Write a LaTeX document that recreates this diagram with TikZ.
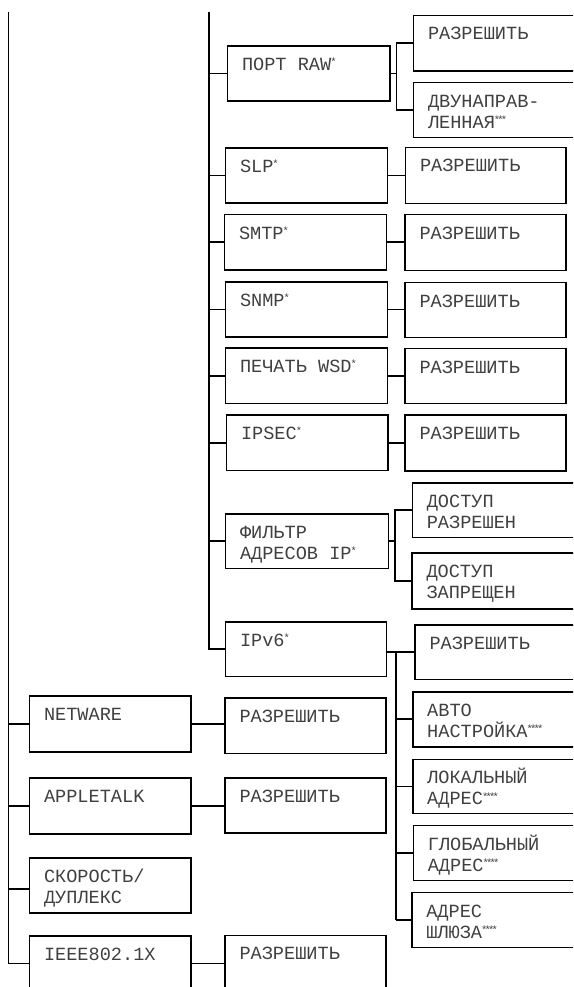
\documentclass[tikz,border=0pt]{standalone}
\usepackage{fontspec}
\newfontfamily\mono{Liberation Mono}
\newcommand\st[1]{\raisebox{4.6pt}{\fontsize{10.5}{10.5}\selectfont #1}}
\newcommand\starA{\kern-1pt*}
\newcommand\starC{\kern-1pt*\kern-2.8pt*\kern-2.8pt*}
\newcommand\starD{\kern-1pt*\kern-2.8pt*\kern-2.8pt*\kern-2.8pt*}
\newcommand\tx[3]{\parbox[c][#2][t]{#1}{\mono\fontsize{18.6}{21}\selectfont\raggedright\leftskip=14.5pt\rule{0pt}{24.5pt}#3}}
\tikzset{
  bx/.style={draw, line width=1.6pt, inner sep=0pt, outer sep=0pt, anchor=north west, text=black!75},
  ln/.style={line width=1.6pt}
}
\begin{document}
\begin{tikzpicture}[x=1pt,y=-1pt]
\useasboundingbox (0,0) rectangle (573,987);
\clip (0,0) rectangle (573,987);
% column 2
\node[bx] (raw)   at (227.5,46)  {\tx{162.5pt}{55pt}{ПОРТ RAW\st{\starA}}};
\node[bx] (slp)   at (225.5,148) {\tx{162pt}{55pt}{SLP\st{\starA}}};
\node[bx] (smtp)  at (224.5,214.5) {\tx{162pt}{55.5pt}{SMTP\st{\starA}}};
\node[bx] (snmp)  at (225.5,282) {\tx{162pt}{55pt}{SNMP\st{\starA}}};
\node[bx] (wsd)   at (225.5,348) {\tx{162pt}{55.5pt}{ПЕЧАТЬ WSD\st{\starA}}};
\node[bx] (ipsec) at (226.5,415) {\tx{161.5pt}{55.5pt}{IPSEC\st{\starA}}};
\node[bx] (filt)  at (225.5,514) {\tx{163pt}{54.5pt}{ФИЛЬТР\\АДРЕСОВ IP\st{\starA}}};
\node[bx] (ipv6)  at (225.5,622) {\tx{161pt}{54.5pt}{IPv6\st{\starA}}};
% column 3 single
\node[bx] (slpR)   at (405.5,147.5) {\tx{160.5pt}{56pt}{РАЗРЕШИТЬ}};
\node[bx] (smtpR)  at (405,214.5) {\tx{161pt}{56pt}{РАЗРЕШИТЬ}};
\node[bx] (snmpR)  at (405,282.5) {\tx{161pt}{55pt}{РАЗРЕШИТЬ}};
\node[bx] (wsdR)   at (405,348.5) {\tx{161pt}{55pt}{РАЗРЕШИТЬ}};
\node[bx] (ipsecR) at (405,415)   {\tx{161pt}{56pt}{РАЗРЕШИТЬ}};
% column 3 bracket boxes
\node[bx] (raz1) at (413.5,15.5) {\tx{180pt}{55.5pt}{РАЗРЕШИТЬ}};
\node[bx] (dvu)  at (413.5,82.7) {\tx{180pt}{54.7pt}{ДВУНАПРАВ-\\ЛЕННАЯ\st{\starC}}};
\node[bx] (dr)   at (412.3,482.7) {\tx{180pt}{54.7pt}{ДОСТУП\\РАЗРЕШЕН}};
\node[bx] (dz)   at (412,553) {\tx{180pt}{56pt}{ДОСТУП\\ЗАПРЕЩЕН}};
\node[bx] (ipr)  at (415,625) {\tx{180pt}{54.3pt}{РАЗРЕШИТЬ}};
\node[bx] (avto) at (412.7,691.7) {\tx{180pt}{55pt}{АВТО\\НАСТРОЙКА\st{\starD}}};
\node[bx] (lok)  at (412.7,759.3) {\tx{180pt}{54pt}{ЛОКАЛЬНЫЙ\\АДРЕС\st{\starD}}};
\node[bx] (glob) at (413.3,825.5) {\tx{180pt}{55pt}{ГЛОБАЛЬНЫЙ\\АДРЕС\st{\starD}}};
\node[bx] (shl)  at (411.8,892.5) {\tx{180pt}{55pt}{АДРЕС\\ШЛЮЗА\st{\starD}}};
% column 1
\node[bx] (netw) at (29.5,696)   {\tx{161.5pt}{55.7pt}{NETWARE}};
\node[bx] (apl)  at (29.5,777.7) {\tx{161.5pt}{56.3pt}{APPLETALK}};
\node[bx] (sk)   at (29.5,857.7) {\tx{161.5pt}{55.3pt}{СКОРОСТЬ/\\ДУПЛЕКС}};
\node[bx] (ieee) at (29.5,936)   {\tx{161.5pt}{55pt}{IEEE802.1X}};
% column 2 lower
\node[bx] (netR)  at (225,698)   {\tx{161pt}{55.3pt}{РАЗРЕШИТЬ}};
\node[bx] (aplR)  at (225,777.7) {\tx{161pt}{55pt}{РАЗРЕШИТЬ}};
\node[bx] (ieeeR) at (225,935.3) {\tx{161pt}{55pt}{РАЗРЕШИТЬ}};
% trunk lines
\coordinate (l1t) at (8.5,11.7);
\coordinate (l2t) at (209,11.7);
\draw[ln] (l1t) |- (ieee.west);
\draw[ln] (l2t) |- (ipv6.west);
\foreach \n in {raw,slp,smtp,snmp,wsd,ipsec,filt}
  \draw[ln] (\n.west -| l2t) -- (\n.west);
\foreach \n in {netw,apl}
  \draw[ln] (\n.west -| l1t) -- (\n.west);
\draw[ln] ([yshift=-3.5pt]sk.west -| l1t) -- ([yshift=-3.5pt]sk.west);
\foreach \a/\b in {slp/slpR,smtp/smtpR,snmp/snmpR,wsd/wsdR,ipsec/ipsecR,netw/netR,apl/aplR,ieee/ieeeR}
  \draw[ln] (\a.east) -- (\a.east -| \b.west);
% brackets
\coordinate (b1) at (396.5,0);
\coordinate (b2) at (395,0);
\coordinate (b3) at (396,0);
\draw[ln] (raw.east) -- (raw.east -| b1);
\draw[ln] (raz1.west) -- (raz1.west -| b1) -- (dvu.west -| b1) -- (dvu.west);
\draw[ln] (filt.east) -- (filt.east -| b2);
\draw[ln] (dr.west) -- (dr.west -| b2) -- (dz.west -| b2) -- (dz.west);
\draw[ln] (ipv6.east |- ipr.west) -- (ipr.west);
\draw[ln] (ipr.west -| b3) -- (shl.west -| b3);
\foreach \n in {avto,lok,glob,shl}
  \draw[ln] (\n.west -| b3) -- (\n.west);
\end{tikzpicture}
\end{document}
